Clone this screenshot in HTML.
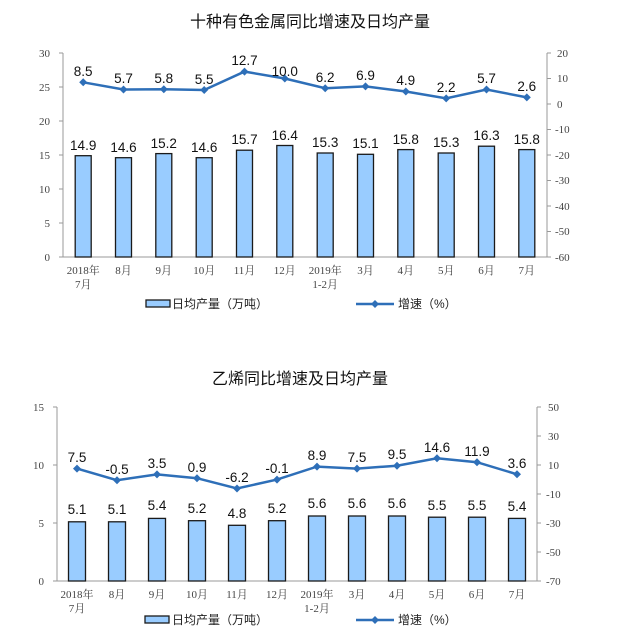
<!DOCTYPE html>
<html><head><meta charset="utf-8"><style>
html,body{margin:0;padding:0;background:#fff;width:617px;height:644px;overflow:hidden}
svg{display:block}
.t{font-family:"Liberation Serif","Noto Serif CJK SC",serif;font-size:11px;fill:#444}
.d{font-family:"Liberation Sans",sans-serif;font-size:13.5px;fill:#111;text-anchor:middle}
.h{font-family:"Liberation Sans","Noto Sans CJK SC",sans-serif;font-size:16px;fill:#111;text-anchor:middle}
.lg{font-family:"Liberation Sans","Noto Sans CJK SC",sans-serif;font-size:12px;fill:#222}
.b{fill:#99ccff;stroke:#1a1a1a;stroke-width:1.3}
.ln{fill:none;stroke:#2e6fb8;stroke-width:2.5}
.ax{stroke:#999;stroke-width:1}
</style></head><body>
<svg width="617" height="644" viewBox="0 0 617 644">
<!-- Chart 1 -->
<text class="h" x="310" y="27">十种有色金属同比增速及日均产量</text>
<g class="ax">
<line x1="63" y1="53" x2="63" y2="257"/><line x1="547" y1="53" x2="547" y2="257"/><line x1="63" y1="257" x2="547" y2="257"/>
<line x1="59" y1="53" x2="63" y2="53"/><line x1="59" y1="87" x2="63" y2="87"/><line x1="59" y1="121" x2="63" y2="121"/><line x1="59" y1="155" x2="63" y2="155"/><line x1="59" y1="189" x2="63" y2="189"/><line x1="59" y1="223" x2="63" y2="223"/><line x1="59" y1="257" x2="63" y2="257"/>
<line x1="547" y1="53" x2="551" y2="53"/><line x1="547" y1="78.5" x2="551" y2="78.5"/><line x1="547" y1="104" x2="551" y2="104"/><line x1="547" y1="129.5" x2="551" y2="129.5"/><line x1="547" y1="155" x2="551" y2="155"/><line x1="547" y1="180.5" x2="551" y2="180.5"/><line x1="547" y1="206" x2="551" y2="206"/><line x1="547" y1="231.5" x2="551" y2="231.5"/><line x1="547" y1="257" x2="551" y2="257"/>
</g>
<g class="t" text-anchor="end">
<text x="50" y="57">30</text><text x="50" y="91">25</text><text x="50" y="125">20</text><text x="50" y="159">15</text><text x="50" y="193">10</text><text x="50" y="227">5</text><text x="50" y="261">0</text>
</g>
<g class="t">
<text x="557" y="57">20</text><text x="557" y="82">10</text><text x="557" y="108">0</text><text x="555" y="133">-10</text><text x="555" y="159">-20</text><text x="555" y="184">-30</text><text x="555" y="210">-40</text><text x="555" y="235">-50</text><text x="555" y="261">-60</text>
</g>
<g>
<rect class="b" x="75.2" y="155.7" width="16" height="101.3"/>
<rect class="b" x="115.5" y="157.7" width="16" height="99.3"/>
<rect class="b" x="155.8" y="153.6" width="16" height="103.4"/>
<rect class="b" x="196.2" y="157.7" width="16" height="99.3"/>
<rect class="b" x="236.5" y="150.2" width="16" height="106.8"/>
<rect class="b" x="276.8" y="145.5" width="16" height="111.5"/>
<rect class="b" x="317.2" y="153" width="16" height="104"/>
<rect class="b" x="357.5" y="154.3" width="16" height="102.7"/>
<rect class="b" x="397.8" y="149.6" width="16" height="107.4"/>
<rect class="b" x="438.2" y="153" width="16" height="104"/>
<rect class="b" x="478.5" y="146.2" width="16" height="110.8"/>
<rect class="b" x="518.8" y="149.6" width="16" height="107.4"/>
</g>
<g class="d">
<text x="83.2" y="150">14.9</text><text x="123.5" y="152">14.6</text><text x="163.8" y="148">15.2</text><text x="204.2" y="152">14.6</text><text x="244.5" y="144">15.7</text><text x="284.8" y="140">16.4</text><text x="325.2" y="147">15.3</text><text x="365.5" y="148">15.1</text><text x="405.8" y="144">15.8</text><text x="446.2" y="147">15.3</text><text x="486.5" y="140">16.3</text><text x="526.8" y="144">15.8</text>
</g>
<polyline class="ln" points="83.2,82.3 123.5,89.5 163.8,89.2 204.2,90 244.5,71.6 284.8,78.5 325.2,88.2 365.5,86.4 405.8,91.5 446.2,98.4 486.5,89.5 526.8,97.4"/>
<g fill="#2e6fb8">
<path d="M83.2,78.3l4,4-4,4-4-4z"/><path d="M123.5,85.5l4,4-4,4-4-4z"/><path d="M163.8,85.2l4,4-4,4-4-4z"/><path d="M204.2,86l4,4-4,4-4-4z"/><path d="M244.5,67.6l4,4-4,4-4-4z"/><path d="M284.8,74.5l4,4-4,4-4-4z"/><path d="M325.2,84.2l4,4-4,4-4-4z"/><path d="M365.5,82.4l4,4-4,4-4-4z"/><path d="M405.8,87.5l4,4-4,4-4-4z"/><path d="M446.2,94.4l4,4-4,4-4-4z"/><path d="M486.5,85.5l4,4-4,4-4-4z"/><path d="M526.8,93.4l4,4-4,4-4-4z"/>
</g>
<g class="d">
<text x="83.2" y="76">8.5</text><text x="123.5" y="83">5.7</text><text x="163.8" y="83">5.8</text><text x="204.2" y="84">5.5</text><text x="244.5" y="65">12.7</text><text x="284.8" y="76">10.0</text><text x="325.2" y="82">6.2</text><text x="365.5" y="80">6.9</text><text x="405.8" y="85">4.9</text><text x="446.2" y="92">2.2</text><text x="486.5" y="83">5.7</text><text x="526.8" y="91">2.6</text>
</g>
<g class="t" text-anchor="middle">
<text x="83.2" y="274">2018年</text><text x="83.2" y="288">7月</text><text x="123.5" y="274">8月</text><text x="163.8" y="274">9月</text><text x="204.2" y="274">10月</text><text x="244.5" y="274">11月</text><text x="284.8" y="274">12月</text><text x="325.2" y="274">2019年</text><text x="325.2" y="288">1-2月</text><text x="365.5" y="274">3月</text><text x="405.8" y="274">4月</text><text x="446.2" y="274">5月</text><text x="486.5" y="274">6月</text><text x="526.8" y="274">7月</text>
</g>
<rect x="146" y="300" width="24" height="7" fill="#99ccff" stroke="#1a1a1a" stroke-width="1.3"/>
<text class="lg" x="172" y="308">日均产量（万吨）</text>
<line x1="356" y1="304" x2="394" y2="304" stroke="#2e6fb8" stroke-width="2.5"/>
<path d="M375,300l4,4-4,4-4-4z" fill="#2e6fb8"/>
<text class="lg" x="398" y="308">增速（%）</text>

<!-- Chart 2 -->
<text class="h" x="300" y="384">乙烯同比增速及日均产量</text>
<g class="ax">
<line x1="57" y1="407" x2="57" y2="581"/><line x1="537" y1="407" x2="537" y2="581"/><line x1="57" y1="581" x2="537" y2="581"/>
<line x1="53" y1="407" x2="57" y2="407"/><line x1="53" y1="465" x2="57" y2="465"/><line x1="53" y1="523" x2="57" y2="523"/><line x1="53" y1="581" x2="57" y2="581"/>
<line x1="537" y1="407" x2="541" y2="407"/><line x1="537" y1="436" x2="541" y2="436"/><line x1="537" y1="465" x2="541" y2="465"/><line x1="537" y1="494" x2="541" y2="494"/><line x1="537" y1="523" x2="541" y2="523"/><line x1="537" y1="552" x2="541" y2="552"/><line x1="537" y1="581" x2="541" y2="581"/>
</g>
<g class="t" text-anchor="end">
<text x="44" y="411">15</text><text x="44" y="469">10</text><text x="44" y="527">5</text><text x="44" y="585">0</text>
</g>
<g class="t">
<text x="548" y="411">50</text><text x="548" y="440">30</text><text x="548" y="469">10</text><text x="546" y="498">-10</text><text x="546" y="527">-30</text><text x="546" y="556">-50</text><text x="546" y="585">-70</text>
</g>
<g>
<rect class="b" x="68.5" y="521.8" width="17" height="59.2"/>
<rect class="b" x="108.5" y="521.8" width="17" height="59.2"/>
<rect class="b" x="148.5" y="518.4" width="17" height="62.6"/>
<rect class="b" x="188.5" y="520.7" width="17" height="60.3"/>
<rect class="b" x="228.5" y="525.3" width="17" height="55.7"/>
<rect class="b" x="268.5" y="520.7" width="17" height="60.3"/>
<rect class="b" x="308.5" y="516" width="17" height="65"/>
<rect class="b" x="348.5" y="516" width="17" height="65"/>
<rect class="b" x="388.5" y="516" width="17" height="65"/>
<rect class="b" x="428.5" y="517.2" width="17" height="63.8"/>
<rect class="b" x="468.5" y="517.2" width="17" height="63.8"/>
<rect class="b" x="508.5" y="518.4" width="17" height="62.6"/>
</g>
<g class="d">
<text x="77" y="514">5.1</text><text x="117" y="514">5.1</text><text x="157" y="510">5.4</text><text x="197" y="513">5.2</text><text x="237" y="518">4.8</text><text x="277" y="513">5.2</text><text x="317" y="508">5.6</text><text x="357" y="508">5.6</text><text x="397" y="508">5.6</text><text x="437" y="510">5.5</text><text x="477" y="510">5.5</text><text x="517" y="511">5.4</text>
</g>
<polyline class="ln" points="77,468.6 117,480.2 157,474.4 197,478.2 237,488.5 277,479.6 317,466.6 357,468.6 397,465.7 437,458.3 477,462.2 517,474.3"/>
<g fill="#2e6fb8">
<path d="M77,464.6l4,4-4,4-4-4z"/><path d="M117,476.2l4,4-4,4-4-4z"/><path d="M157,470.4l4,4-4,4-4-4z"/><path d="M197,474.2l4,4-4,4-4-4z"/><path d="M237,484.5l4,4-4,4-4-4z"/><path d="M277,475.6l4,4-4,4-4-4z"/><path d="M317,462.6l4,4-4,4-4-4z"/><path d="M357,464.6l4,4-4,4-4-4z"/><path d="M397,461.7l4,4-4,4-4-4z"/><path d="M437,454.3l4,4-4,4-4-4z"/><path d="M477,458.2l4,4-4,4-4-4z"/><path d="M517,470.3l4,4-4,4-4-4z"/>
</g>
<g class="d">
<text x="77" y="462">7.5</text><text x="117" y="474">-0.5</text><text x="157" y="468">3.5</text><text x="197" y="472">0.9</text><text x="237" y="482">-6.2</text><text x="277" y="473">-0.1</text><text x="317" y="460">8.9</text><text x="357" y="462">7.5</text><text x="397" y="459">9.5</text><text x="437" y="452">14.6</text><text x="477" y="456">11.9</text><text x="517" y="468">3.6</text>
</g>
<g class="t" text-anchor="middle">
<text x="77" y="598">2018年</text><text x="77" y="612">7月</text><text x="117" y="598">8月</text><text x="157" y="598">9月</text><text x="197" y="598">10月</text><text x="237" y="598">11月</text><text x="277" y="598">12月</text><text x="317" y="598">2019年</text><text x="317" y="612">1-2月</text><text x="357" y="598">3月</text><text x="397" y="598">4月</text><text x="437" y="598">5月</text><text x="477" y="598">6月</text><text x="517" y="598">7月</text>
</g>
<rect x="145" y="616" width="24" height="7" fill="#99ccff" stroke="#1a1a1a" stroke-width="1.3"/>
<text class="lg" x="172" y="624">日均产量（万吨）</text>
<line x1="356" y1="620" x2="394" y2="620" stroke="#2e6fb8" stroke-width="2.5"/>
<path d="M375,616l4,4-4,4-4-4z" fill="#2e6fb8"/>
<text class="lg" x="398" y="624">增速（%）</text>
</svg>
</body></html>
